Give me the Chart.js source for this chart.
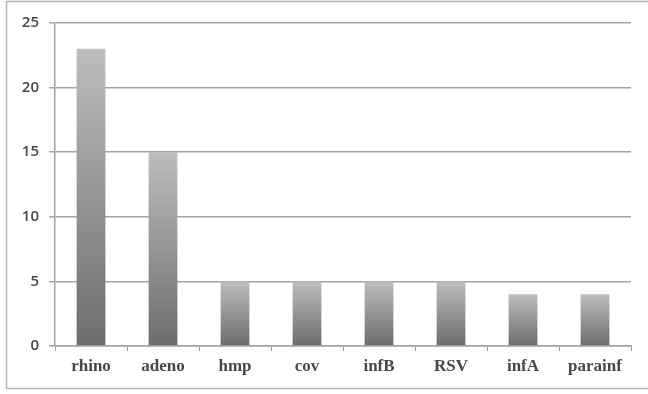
<!DOCTYPE html>
<html>
<head>
<meta charset="utf-8">
<script src="https://cdn.jsdelivr.net/npm/chart.js@4.4.1/dist/chart.umd.min.js"></script>
<style>
  html, body { margin: 0; padding: 0; background: #ffffff; }
  #wrap { width: 648px; height: 394px; position: relative; }
</style>
</head>
<body>
<div id="wrap"><canvas id="c" width="648" height="394"></canvas></div>
<script>
const categories = ['rhino', 'adeno', 'hmp', 'cov', 'infB', 'RSV', 'infA', 'parainf'];
const counts = [23, 15, 5, 5, 5, 5, 4, 4];
const yTicks = [0, 5, 10, 15, 20, 25];

const gridColor = '#a3a3a3';
const textColor = '#474747';
const xFont = { family: "'Liberation Serif', 'DejaVu Serif', serif", size: 17, weight: 'bold' };
const yFont = { family: "'Open Sans', 'DejaVu Sans', sans-serif", size: 15, weight: '600' };

// Each bar gets its own vertical gradient, light at the top and dark at the base.
function barGradient(ctx) {
  const chart = ctx.chart;
  const y = chart.scales && chart.scales.y;
  if (!y || ctx.type !== 'data') return '#999999';
  const top = y.getPixelForValue(ctx.raw);
  const base = y.getPixelForValue(0);
  if (!isFinite(top) || !isFinite(base) || top === base) return '#999999';
  const g = chart.ctx.createLinearGradient(0, top, 0, base);
  g.addColorStop(0, '#bdbdbd');
  g.addColorStop(1, '#6d6d6d');
  return g;
}

// Thin frame around the whole figure.
const framePlugin = {
  id: 'frame',
  afterDraw(chart) {
    const c = chart.ctx;
    c.save();
    c.strokeStyle = '#b5b5b5';
    c.lineWidth = 1.5;
    c.strokeRect(6.5, 1.5, 660, 387);
    c.restore();
  }
};

new Chart(document.getElementById('c'), {
  type: 'bar',
  data: {
    labels: categories,
    datasets: [{
      data: counts,
      backgroundColor: barGradient,
      borderWidth: 0,
      categoryPercentage: 1.0,
      barPercentage: 0.4
    }]
  },
  options: {
    responsive: false,
    animation: false,
    devicePixelRatio: 1,
    layout: { padding: { left: 6, right: 17, top: 23, bottom: 8 } },
    plugins: { legend: { display: false }, tooltip: { enabled: false } },
    scales: {
      x: {
        offset: true,
        grid: { offset: true, drawOnChartArea: false, drawTicks: true, tickLength: 5, color: gridColor },
        border: { display: true, color: gridColor, width: 1.5 },
        ticks: { color: textColor, font: xFont, padding: 5, maxRotation: 0 },
        afterFit(scale) { scale.height = 40; }
      },
      y: {
        min: 0,
        max: 25,
        afterBuildTicks(scale) { scale.ticks = yTicks.map(v => ({ value: v })); },
        grid: { color: gridColor, lineWidth: 1.5, tickLength: 6 },
        border: { display: true, color: gridColor, width: 1.5 },
        ticks: { color: textColor, font: yFont, padding: 10 },
        afterFit(scale) { scale.width = 49; }
      }
    }
  },
  plugins: [framePlugin]
});
</script>
</body>
</html>
